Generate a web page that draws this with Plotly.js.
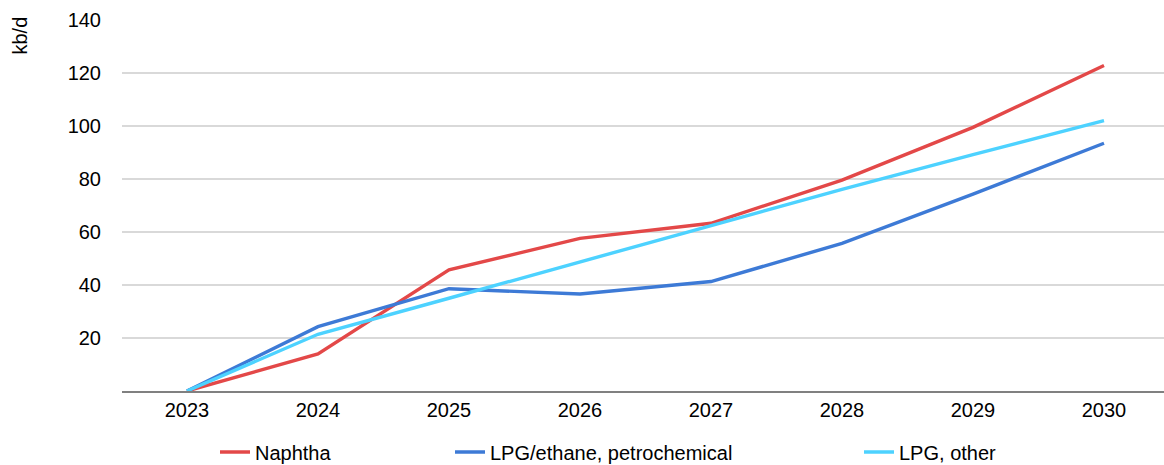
<!DOCTYPE html>
<html>
<head>
<meta charset="utf-8">
<script src="https://cdn.plot.ly/plotly-3.0.1.min.js"></script>
<style>
html,body{margin:0;padding:0;background:#fff;}
#chart{width:1164px;height:465px;}
</style>
</head>
<body>
<div id="chart"></div>
<script>
const years = ["2023","2024","2025","2026","2027","2028","2029","2030"];
const naphtha = [0, 14.0, 45.7, 57.6, 63.3, 79.6, 99.5, 122.8];
const lpgEthane = [0, 24.3, 38.6, 36.6, 41.3, 55.7, 74.3, 93.5];
const lpgOther = [0, 21.4, 35.0, 48.8, 62.3, 76.1, 89.2, 102.0];
const seriesNames = ["Naphtha", "LPG/ethane, petrochemical", "LPG, other"];
const colors = ["#E34848", "#3D7AD6", "#4DD2FF"];
const yTicks = [20, 40, 60, 80, 100, 120, 140];

const font = "Liberation Sans, Arial, sans-serif";
const legendIds = ["legend", "legend2", "legend3"];
const legendX = [215, 450, 859];
const data = [naphtha, lpgEthane, lpgOther].map((v, i) => ({
  type: "scatter", mode: "lines", x: years, y: v, name: seriesNames[i],
  legend: legendIds[i],
  line: {color: colors[i], width: 3.4}
}));

const L = 122, T = 20, W = 1164, H = 465, B = 74;
function leg(x) {
  return {orientation: "h", xref: "container", yref: "container",
          x: x / W, xanchor: "left", y: 13 / H, yanchor: "middle",
          bgcolor: "rgba(0,0,0,0)",
          font: {family: font, size: 20, color: "#000"}};
}
const layout = {
  width: W, height: H,
  margin: {l: L, r: 0, t: T, b: B},
  paper_bgcolor: "#fff", plot_bgcolor: "#fff",
  font: {family: font, size: 20, color: "#000"},
  showlegend: true,
  legend: leg(legendX[0]), legend2: leg(legendX[1]), legend3: leg(legendX[2]),
  xaxis: {type: "category", range: [-0.496, 7.458], showgrid: false,
          showline: true, linecolor: "#808080", linewidth: 2, ticks: "",
          tickfont: {family: font, size: 20}, fixedrange: true, automargin: false},
  yaxis: {range: [0, 140], tickvals: yTicks, ticktext: yTicks.map(String),
          showgrid: true, gridcolor: "#d9d9d9", gridwidth: 1.5, zeroline: false,
          showline: false, ticks: "", ticklabelstandoff: 20, automargin: false,
          tickfont: {family: font, size: 20}},
  annotations: [{
    text: "kb/d", xref: "paper", yref: "paper",
    x: (19.5 - L) / (W - L), y: (H - B - 36) / (H - B - T),
    xanchor: "center", yanchor: "middle", textangle: -90, showarrow: false,
    font: {family: font, size: 20, color: "#000"}
  }]
};
Plotly.newPlot("chart", data, layout, {displayModeBar: false, staticPlot: true});
</script>
</body>
</html>
